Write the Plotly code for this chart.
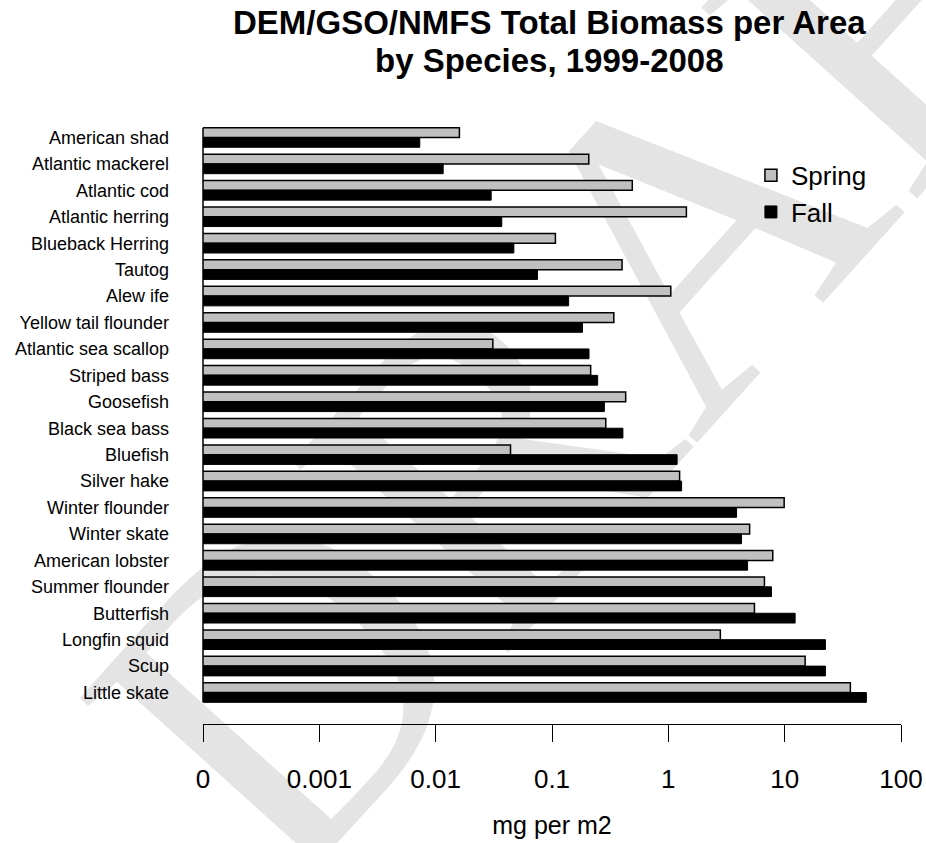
import plotly.graph_objects as go

# species, top to bottom as in the original chart
species = [
    "American shad", "Atlantic mackerel", "Atlantic cod", "Atlantic herring",
    "Blueback Herring", "Tautog", "Alew ife", "Yellow tail flounder",
    "Atlantic sea scallop", "Striped bass", "Goosefish", "Black sea bass",
    "Bluefish", "Silver hake", "Winter flounder", "Winter skate",
    "American lobster", "Summer flounder", "Butterfish", "Longfin squid",
    "Scup", "Little skate",
]

# mg per m2
spring = [
    0.016, 0.207, 0.49, 1.43,
    0.107, 0.40, 1.05, 0.34,
    0.031, 0.215, 0.43, 0.29,
    0.044, 1.25, 9.9, 5.0,
    7.9, 6.7, 5.5, 2.8,
    15.0, 36.7,
]
fall = [
    0.0073, 0.0116, 0.030, 0.037,
    0.047, 0.075, 0.139, 0.183,
    0.208, 0.247, 0.282, 0.407,
    1.19, 1.30, 3.86, 4.26,
    4.8, 7.7, 12.3, 22.4,
    22.4, 50.4,
]

tick_vals = [1e-4, 1e-3, 1e-2, 1e-1, 1, 10, 100]
tick_text = ["0", "0.001", "0.01", "0.1", "1", "10", "100"]

title_lines = ["DEM/GSO/NMFS Total Biomass per Area", "by Species, 1999-2008"]

FONT = "Liberation Sans, Arial, sans-serif"

fig = go.Figure()
fig.add_trace(go.Bar(
    y=species, x=spring, orientation="h", name="Spring",
    marker=dict(color="#c0c0c0", line=dict(color="black", width=1.5)),
))
fig.add_trace(go.Bar(
    y=species, x=fall, orientation="h", name="Fall",
    marker=dict(color="black", line=dict(color="black", width=1)),
))

n = len(species)

# DRAFT watermark behind the bars
fig.add_shape(
    type="rect", xref="paper", yref="paper",
    x0=0.58, x1=0.62, y0=0.78, y1=0.82,
    line=dict(width=0), fillcolor="rgba(0,0,0,0)", layer="below",
    label=dict(text="DRAFT", textangle=-48,
               font=dict(family="Liberation Serif, Times New Roman, serif",
                         size=440, color="#e4e4e4")),
)

# baseline running down the left edge of the bars
fig.add_shape(
    type="line", xref="paper", yref="y",
    x0=0, x1=0, y0=-0.37, y1=n - 1 + 0.37,
    line=dict(color="black", width=1.5),
)

# two-line bold title
for text, ypos in zip(title_lines, [1.1425, 1.0805]):
    fig.add_annotation(
        text=f"<b>{text}</b>", xref="paper", yref="paper",
        x=0.496, y=ypos, xanchor="center", yanchor="middle",
        showarrow=False, font=dict(family=FONT, size=33, color="black"),
    )

fig.update_layout(
    width=926, height=843,
    margin=dict(l=203, r=25, t=110, b=119),
    paper_bgcolor="white", plot_bgcolor="rgba(0,0,0,0)",
    font=dict(family=FONT, color="black"),
    barmode="group", bargap=0.26, bargroupgap=0,
    showlegend=True,
    legend=dict(
        x=0.785, y=0.932, xanchor="left", yanchor="top",
        traceorder="normal", bgcolor="rgba(0,0,0,0)",
        font=dict(family=FONT, size=26, color="black"),
    ),
)

fig.update_xaxes(
    type="log", range=[-4, 2], automargin=False,
    tickvals=tick_vals, ticktext=tick_text,
    ticks="outside", ticklen=17, tickwidth=1, tickcolor="black",
    showline=True, linecolor="black", linewidth=1,
    showgrid=False, zeroline=False,
    tickfont=dict(family=FONT, size=26),
    ticklabelstandoff=15,
    title=dict(text="mg per m2", font=dict(family=FONT, size=25), standoff=23),
)
fig.update_yaxes(
    type="category", categoryorder="array", categoryarray=species,
    range=[n - 1 + 1.19, -1.04], automargin=False,
    showline=False, showgrid=False, zeroline=False, ticks="",
    tickfont=dict(family=FONT, size=18),
    ticklabelstandoff=33,
)

fig.write_html(
    "out.html",
    config={"displayModeBar": False},
    post_script="document.body.style.margin='0';",
)
